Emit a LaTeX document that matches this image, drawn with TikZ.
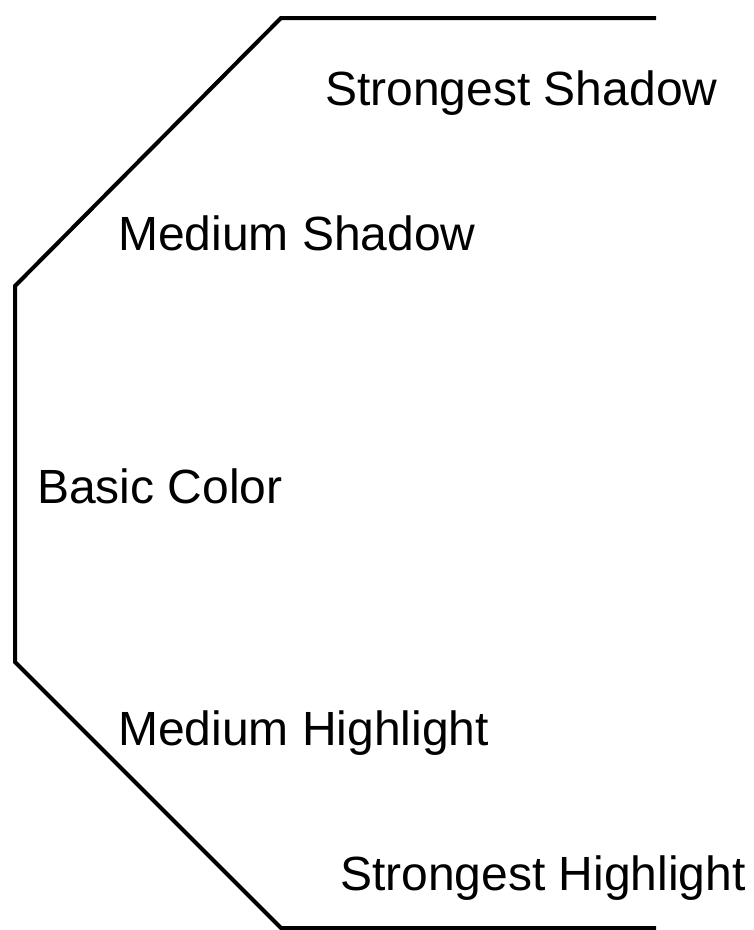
\documentclass[tikz,border=0pt]{standalone}
\usepackage{fontspec}
\setmainfont{Liberation Sans}
\tikzset{
  outline/.style={line width=4pt, black, line join=miter},
  tone/.style={anchor=base west, inner sep=0pt, font=\fontsize{48}{58}\selectfont}
}
\begin{document}
\begin{tikzpicture}[x=1pt, y=-1pt]
  \useasboundingbox (0,0) rectangle (754,930);
  % half-octagon outline
  \draw[outline] (656,18) -- (281,18) -- (15,286) -- (15,662) -- (281,928) -- (656,928);
  % tone labels
  \node[tone] (strongshadow) at (325,105) {Strongest Shadow};
  \node[tone] (medshadow)    at (118,250) {Medium Shadow};
  \node[tone] (basic)        at (37,503)  {Basic Color};
  \node[tone] (medhigh)      at (118,745) {Medium Highlight};
  \node[tone] (stronghigh)   at (340,890) {Strongest Highlight};
\end{tikzpicture}
\end{document}
